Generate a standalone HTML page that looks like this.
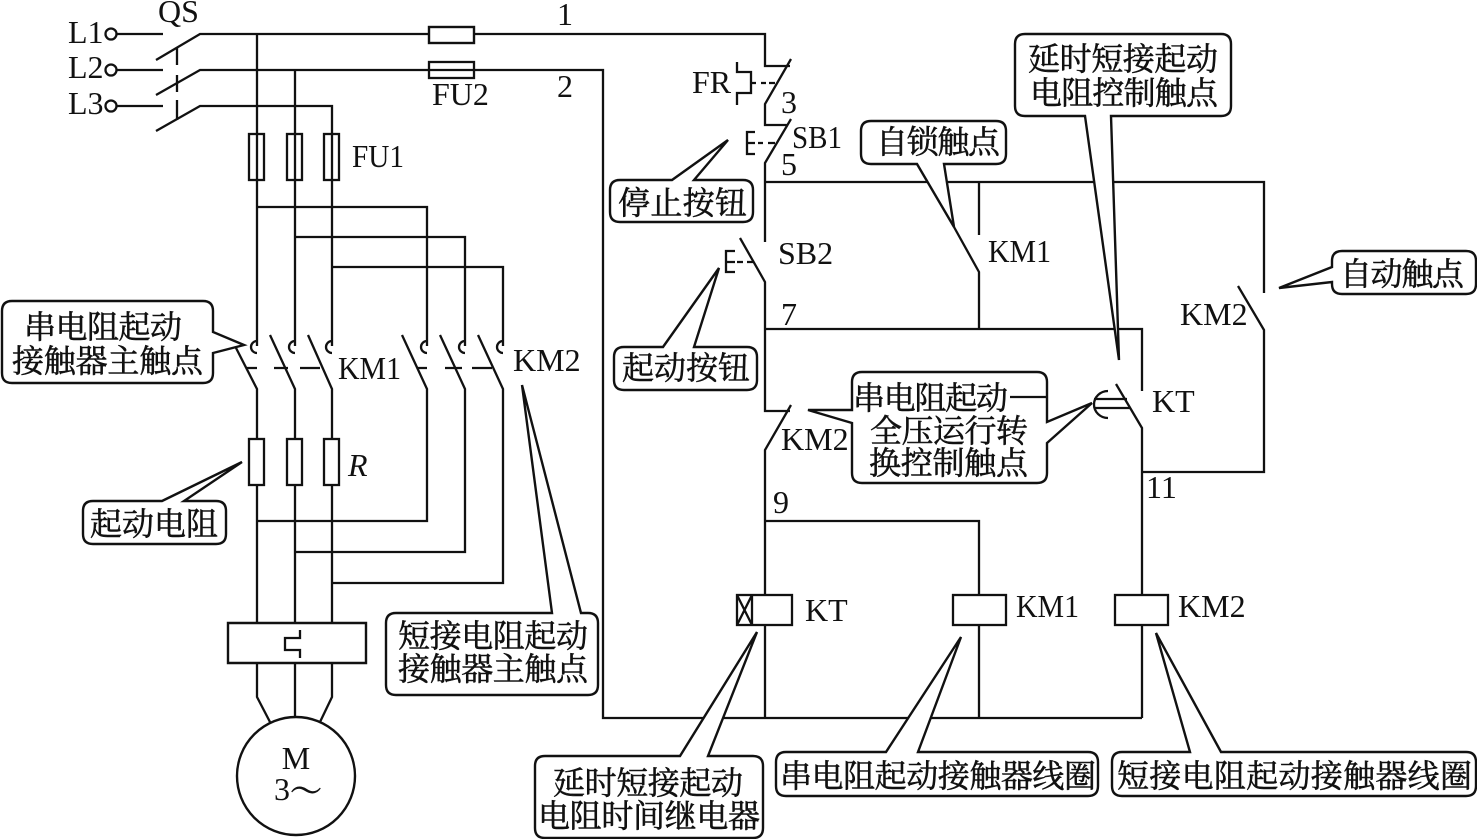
<!DOCTYPE html>
<html><head><meta charset="utf-8"><style>
html,body{margin:0;padding:0;background:#fff;width:1477px;height:839px;overflow:hidden}
svg{display:block}
.w{fill:none;stroke:#111;stroke-width:2.3;stroke-linecap:butt;stroke-linejoin:miter}
.c{fill:#fff;stroke:#111;stroke-width:2.4;stroke-linejoin:miter}
.b{fill:#fff;stroke:#111;stroke-width:2.4}
text{fill:#111}
.l{font-family:"Liberation Serif",serif;font-size:32px}
.z{font-family:"Noto Serif CJK SC","Liberation Serif",serif;font-size:32px;stroke:#111;stroke-width:.55}
</style></head><body>
<svg width="1477" height="839" viewBox="0 0 1477 839" xmlns="http://www.w3.org/2000/svg">
<rect width="1477" height="839" fill="#fff"/>
<!-- power wiring -->
<g class="w">
<circle cx="111" cy="34" r="5.5"/><circle cx="111" cy="70" r="5.5"/><circle cx="111" cy="106" r="5.5"/>
<path d="M117 34H163M117 70H163M117 106H163"/>
<path d="M156 60L200 34H765V66H790M156 95L200 70H603V718H1142M156 131L200 106H332V346"/>
<path d="M177 48V65M177 75V92M177 100V120"/>
<path d="M257 34V346M295 70V346"/>
<path d="M257 207H427V346M295 237H465V346M332 267H503V346"/>
<path d="M257 341a6 6 0 0 0 0 12M295 341a6 6 0 0 0 0 12M332 341a6 6 0 0 0 0 12M427 341a6 6 0 0 0 0 12M465 341a6 6 0 0 0 0 12M503 341a6 6 0 0 0 0 12"/>
<path d="M235 346L257 389V623M270 335L295 389V623M308 335L332 389V623M402 335L427 389V521H257M440 335L465 389V552H295M478 335L503 389V583H332"/>
<path d="M246 368H257M274 368H288M300 368H320M417 368H427M445 368H462M472 368H492"/>
<path d="M257 663V697L270 722M295 663V717M332 663V697L320 722"/>
</g>
<rect class="b" x="429" y="27" width="45" height="16"/>
<rect class="w" x="429" y="62" width="45" height="16"/>
<g class="w">
<rect x="249" y="134" width="15" height="46"/><rect x="287" y="134" width="15" height="46"/><rect x="324" y="134" width="15" height="46"/>
<rect x="249" y="439" width="15" height="46" fill="#fff"/><rect x="287" y="439" width="15" height="46" fill="#fff"/><rect x="324" y="439" width="15" height="46" fill="#fff"/>
</g>
<path class="b" d="M228 623H366V663H228Z"/>
<path class="w" d="M300 630V638H285V650H300V658"/>
<circle cx="296" cy="776" r="59" class="b"/>
<!-- control wiring -->
<g class="w">
<path d="M791 59L765 104V125H788M791 119L765 163V242"/>
<path d="M737 62V72H751V93H737V105M751 83H756M761 83H766M769 83H775"/>
<path d="M755 132H747V154H755M747 143H755M758 143H763M768 143H775"/>
<path d="M735 251H726V272H735M726 262H735M737 262H743M747 262H753"/>
<path d="M740 238L765 282V411H790M791 405L765 450V718"/>
<path d="M765 182H1264V293M1238 286L1264 330V472H1142"/>
<path d="M979 182V235M954 227L979 272V329"/>
<path d="M765 329H1142V391M1116 384L1142 428V718"/>
<path d="M1108 391a14 13.500 0 0 0 0 27M1094 399H1127M1094 408H1130"/>
<path d="M765 521H979V718"/>
<rect x="737" y="595" width="55" height="30" fill="#fff"/><path d="M752 595V625M737 595L752 625M752 595L737 625"/>
<rect x="953" y="595" width="53" height="30" fill="#fff"/>
<rect x="1115" y="595" width="53" height="30" fill="#fff"/>
</g>
<!-- callouts -->
<g class="c">
<path d="M12 301H203q10 0 10 10V332L244 345L213 353V373q0 10-10 10H12q-10 0-10-10V311q0-10 10-10Z"/>
<path d="M620 180H672L728 140L694 180H743q10 0 10 10V212q0 10-10 10H620q-10 0-10-10V190q0-10 10-10Z"/>
<path d="M871 121H996q10 0 10 10V154q0 10-10 10H944L954 227L917 164H871q-10 0-10-10V131q0-10 10-10Z"/>
<path d="M624 347H663L719 268L694 347H747q10 0 10 10V380q0 10-10 10H624q-10 0-10-10V357q0-10 10-10Z"/>
<path d="M1025 34H1221q10 0 10 10V106q0 10-10 10H1111L1119 360L1085 116H1025q-10 0-10-10V44q0-10 10-10Z"/>
<path d="M1342 251H1466q10 0 10 10V284q0 10-10 10H1342q-10 0-10-10V282L1279 288L1332 267V261q0-10 10-10Z"/>
<path d="M862 372H1037q10 0 10 10V422L1092 403L1047 443V473q0 10-10 10H862q-10 0-10-10V423L808 410H852V382q0-10 10-10Z"/>
<path d="M93 501H162L242 462L184 501H216q10 0 10 10V534q0 10-10 10H93q-10 0-10-10V511q0-10 10-10Z"/>
<path d="M396 613H552L522 385L581 613H588q10 0 10 10V685q0 10-10 10H396q-10 0-10-10V623q0-10 10-10Z"/>
<path d="M545 756H680L757 632L708 756H753q10 0 10 10V828q0 10-10 10H545q-10 0-10-10V766q0-10 10-10Z"/>
<path d="M786 752H886L961 637L918 752H1088q10 0 10 10V786q0 10-10 10H786q-10 0-10-10V762q0-10 10-10Z"/>
<path d="M1122 752H1190L1156 633L1221 752H1466q10 0 10 10V786q0 10-10 10H1122q-10 0-10-10V762q0-10 10-10Z"/>
</g>
<path class="w" d="M1010 397H1047"/>
<!-- latin labels -->
<g class="l">
<text x="68" y="43">L1</text><text x="68" y="78">L2</text><text x="68" y="114">L3</text>
<text x="158" y="22">QS</text><text x="432" y="105">FU2</text>
<text x="352" y="167" textLength="52" lengthAdjust="spacingAndGlyphs">FU1</text>
<text x="338" y="379" textLength="63" lengthAdjust="spacingAndGlyphs">KM1</text><text x="513" y="371">KM2</text>
<text x="348" y="476" font-style="italic">R</text>
<text x="296" y="769" text-anchor="middle">M</text><text x="274" y="800">3</text>
<text x="557" y="25">1</text><text x="557" y="97">2</text>
<text x="692" y="93">FR</text><text x="781" y="113">3</text>
<text x="792" y="148" textLength="50" lengthAdjust="spacingAndGlyphs">SB1</text><text x="781" y="175">5</text>
<text x="778" y="264">SB2</text>
<text x="988" y="262" textLength="63" lengthAdjust="spacingAndGlyphs">KM1</text><text x="781" y="325">7</text>
<text x="781" y="450">KM2</text><text x="773" y="513">9</text><text x="1146" y="498">11</text>
<text x="1152" y="412">KT</text><text x="1180" y="325">KM2</text>
<text x="805" y="621">KT</text>
<text x="1016" y="617" textLength="63" lengthAdjust="spacingAndGlyphs">KM1</text><text x="1178" y="617">KM2</text>
</g>
<!-- cjk labels -->
<g class="z">
<text x="290" y="802">～</text>
<text x="24" y="338" textLength="158">串电阻起动</text>
<text x="12" y="372" textLength="191">接触器主触点</text>
<text x="618" y="214" textLength="129">停止按钮</text>
<text x="876" y="153" textLength="124">自锁触点</text>
<text x="622" y="379" textLength="128">起动按钮</text>
<text x="1028" y="70" textLength="190">延时短接起动</text>
<text x="1030" y="104" textLength="188">电阻控制触点</text>
<text x="1340" y="285" textLength="124">自动触点</text>
<text x="853" y="409" textLength="155">串电阻起动</text>
<text x="870" y="442" textLength="158">全压运行转</text>
<text x="869" y="474" textLength="159">换控制触点</text>
<text x="90" y="535" textLength="128">起动电阻</text>
<text x="398" y="647" textLength="190">短接电阻起动</text>
<text x="398" y="680" textLength="190">接触器主触点</text>
<text x="553" y="794" textLength="190">延时短接起动</text>
<text x="538" y="827" textLength="222">电阻时间继电器</text>
<text x="780" y="787" textLength="316">串电阻起动接触器线圈</text>
<text x="1117" y="787" textLength="355">短接电阻起动接触器线圈</text>
</g>
</svg>
</body></html>
